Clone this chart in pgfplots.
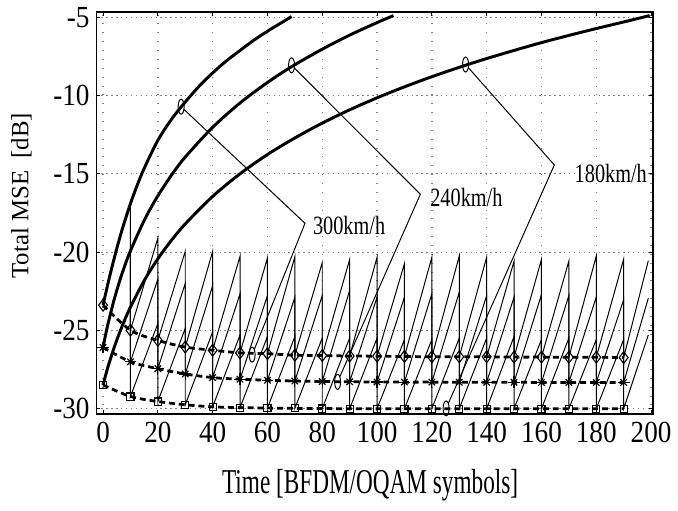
\documentclass[border=0pt]{standalone}
\usepackage{fontspec}
\setmainfont{Liberation Serif}
\usepackage{pgfplots}
\pgfplotsset{compat=1.18}
\usetikzlibrary{calc}

\begin{document}
\begin{tikzpicture}
\begin{axis}[
 scale only axis, width=282.5pt, height=204.5pt,
 xmin=-2.4, xmax=200.6, ymin=-30.38, ymax=-4.62,
 xtick={0,20,...,200}, xticklabels={0,20,40,60,80,100,120,140,160,180,200},
 ytick={-30,-25,-20,-15,-10,-5}, yticklabels={-30,-25,-20,-15,-10,-5},
 tick align=inside, major tick length=2pt, tick style={black,line width=0.5pt},
 axis line style={line width=0.9pt},
 grid=major,
 major x grid style={gray,line width=0.7pt,dash pattern=on 0.5pt off 4pt},
 major y grid style={gray,line width=0.5pt,dash pattern=on 0.7pt off 1.8pt},
 tick label style={font=\fontsize{13.8}{14}\selectfont,yscale=1.13},
 xlabel={Time [BFDM/OQAM symbols]},
 ylabel={Total MSE\ \ [dB]},
 xlabel style={font=\fontsize{11.8}{12}\selectfont,yscale=1.5,at={(axis description cs:0.492,-0.176)},anchor=center},
 ylabel style={font=\fontsize{12.6}{13}\selectfont,at={(axis description cs:-0.135,0.543)},anchor=center},
]
% growth without re-estimation
\addplot[line width=1.5pt,smooth] coordinates {(0,-23.4) (1,-22.62) (2,-21.86) (3,-21.14) (5,-19.78) (7,-18.54) (10,-16.9) (12.5,-15.71) (15,-14.65) (20,-12.85) (25,-11.5) (30,-10.4) (35,-9.4) (40,-8.54) (45,-7.77) (50,-7.1) (55,-6.45) (60,-5.87) (65,-5.34) (68.8,-4.93)};
\addplot[line width=1.5pt,smooth] coordinates {(0,-26.1) (1,-25.23) (2,-24.45) (4,-23.07) (6,-21.88) (8,-20.84) (10,-19.92) (15,-17.98) (19.6,-16.52) (25,-15.07) (30,-13.92) (40,-12.02) (50,-10.46) (60,-9.15) (68.8,-8.14) (80,-7.02) (90,-6.12) (100,-5.32) (106,-4.87)};
\addplot[line width=1.5pt,smooth] coordinates {(0,-28.5) (1,-27.84) (2,-27.23) (4,-26.13) (6,-25.17) (8,-24.3) (10,-23.52) (15,-21.83) (20,-20.43) (25,-19.24) (30,-18.2) (40,-16.44) (50,-14.99) (60,-13.76) (70,-12.7) (80,-11.75) (90,-10.9) (100,-10.13) (110,-9.43) (120,-8.78) (130,-8.18) (140,-7.62) (150,-7.1) (160,-6.6) (170,-6.14) (180,-5.7) (190,-5.28) (199.5,-4.87)};
% sawtooth with re-estimation every 10 symbols
\addplot[line width=0.5pt] coordinates {(10,-16.9) (10,-25.0) (20,-19.1) (20,-25.65) (30,-19.95) (30,-26.08) (40,-19.95) (40,-26.28) (50,-20.26) (50,-26.45) (60,-20.37) (60,-26.5) (70,-20.3) (70,-26.6) (80,-20.68) (80,-26.62) (90,-20.47) (90,-26.65) (100,-20.33) (100,-26.66) (110,-20.74) (110,-26.68) (120,-20.33) (120,-26.7) (130,-20.26) (130,-26.7) (140,-20.33) (140,-26.7) (150,-20.58) (150,-26.72) (160,-20.47) (160,-26.72) (170,-20.58) (170,-26.73) (180,-20.26) (180,-26.73) (190,-20.45) (190,-26.75) (199,-20.55)};
\addplot[line width=0.5pt] coordinates {(10,-19.92) (10,-27.02) (20,-21.73) (20,-27.46) (30,-22.0) (30,-27.8) (40,-22.15) (40,-28.03) (50,-22.67) (50,-28.13) (60,-22.78) (60,-28.2) (70,-22.9) (70,-28.25) (80,-22.78) (80,-28.28) (90,-22.46) (90,-28.3) (100,-22.88) (100,-28.31) (110,-22.88) (110,-28.32) (120,-22.67) (120,-28.32) (130,-22.57) (130,-28.33) (140,-22.78) (140,-28.33) (150,-22.88) (150,-28.33) (160,-22.72) (160,-28.34) (170,-22.78) (170,-28.34) (180,-22.88) (180,-28.34) (190,-23.05) (190,-28.34) (199,-22.95)};
\addplot[line width=0.5pt] coordinates {(10,-23.52) (10,-29.24) (20,-24.57) (20,-29.56) (30,-24.88) (30,-29.77) (40,-25.1) (40,-29.9) (50,-25.3) (50,-29.95) (60,-25.4) (60,-29.98) (70,-25.4) (70,-30.0) (80,-25.5) (80,-30.01) (90,-25.5) (90,-30.02) (100,-25.5) (100,-30.02) (110,-25.6) (110,-30.02) (120,-25.6) (120,-30.02) (130,-25.5) (130,-30.02) (140,-25.5) (140,-30.02) (150,-25.4) (150,-30.02) (160,-25.6) (160,-30.02) (170,-25.5) (170,-30.02) (180,-25.6) (180,-30.02) (190,-25.6) (190,-30.02) (199,-25.3)};
% values right after re-estimation
\addplot[line width=1.4pt,dash pattern=on 3pt off 2pt,smooth,mark=diamond,mark size=3pt,mark options={solid,line width=0.55pt}] coordinates {(0,-23.4) (10,-25.0) (20,-25.65) (30,-26.08) (40,-26.28) (50,-26.45) (60,-26.5) (70,-26.6) (80,-26.62) (90,-26.65) (100,-26.66) (110,-26.68) (120,-26.7) (130,-26.7) (140,-26.7) (150,-26.72) (160,-26.72) (170,-26.73) (180,-26.73) (190,-26.75)};
\addplot[line width=1.4pt,dash pattern=on 3pt off 2pt,smooth,mark=+,mark size=3pt,mark options={solid,line width=0.6pt}] coordinates {(0,-26.1) (10,-27.02) (20,-27.46) (30,-27.8) (40,-28.03) (50,-28.13) (60,-28.2) (70,-28.25) (80,-28.28) (90,-28.3) (100,-28.31) (110,-28.32) (120,-28.32) (130,-28.33) (140,-28.33) (150,-28.33) (160,-28.34) (170,-28.34) (180,-28.34) (190,-28.34)};
\addplot[only marks,mark=x,mark size=2.3pt,mark options={line width=0.6pt}] coordinates {(0,-26.1) (10,-27.02) (20,-27.46) (30,-27.8) (40,-28.03) (50,-28.13) (60,-28.2) (70,-28.25) (80,-28.28) (90,-28.3) (100,-28.31) (110,-28.32) (120,-28.32) (130,-28.33) (140,-28.33) (150,-28.33) (160,-28.34) (170,-28.34) (180,-28.34) (190,-28.34)};
\addplot[line width=1.4pt,dash pattern=on 3pt off 2pt,smooth,mark=square,mark size=1.8pt,mark options={solid,line width=0.55pt}] coordinates {(0,-28.5) (10,-29.24) (20,-29.56) (30,-29.77) (40,-29.9) (50,-29.95) (60,-29.98) (70,-30.0) (80,-30.01) (90,-30.02) (100,-30.02) (110,-30.02) (120,-30.02) (130,-30.02) (140,-30.02) (150,-30.02) (160,-30.02) (170,-30.02) (180,-30.02) (190,-30.02)};
% annotations
\addplot[only marks,mark=o,mark size=1.9pt,mark options={xscale=0.8,yscale=2,line width=0.5pt}] coordinates {(28.5,-10.7) (68.8,-8.05) (132.3,-8.0) (54.4,-26.56) (85.6,-28.3) (125.2,-30.0)};
\addplot[line width=0.5pt] coordinates {(29.5,-10.87) (73.7,-18.16) (55.2,-26.23)};
\addplot[line width=0.5pt] coordinates {(69.8,-8.22) (115.8,-16.3) (86.4,-27.98)};
\addplot[line width=0.5pt] coordinates {(133.3,-8.2) (164.7,-14.43) (126.0,-29.68)};
\node[anchor=west,inner sep=0pt,font=\fontsize{10.3}{10}\selectfont,yscale=1.3] at (axis cs:76.5,-18.3) {300km/h};
\node[anchor=west,inner sep=0pt,font=\fontsize{10.3}{10}\selectfont,yscale=1.3] at (axis cs:119.3,-16.5) {240km/h};
\node[anchor=west,inner sep=0pt,font=\fontsize{10.3}{10}\selectfont,yscale=1.3] at (axis cs:172,-15.0) {180km/h};
\end{axis}
\path ($(current axis.south west)+(-49pt,-44.5pt)$) rectangle ($(current axis.north east)+(7.5pt,5pt)$);
\end{tikzpicture}
\end{document}
